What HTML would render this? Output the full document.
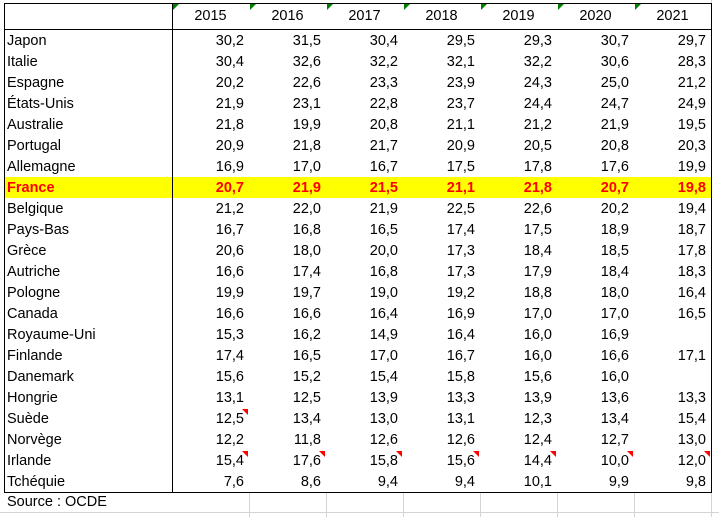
<!DOCTYPE html>
<html><head><meta charset="utf-8"><style>
body{margin:0;width:719px;height:517px;background:#fff;overflow:hidden;position:relative;font-family:"Liberation Sans",Arial,sans-serif;font-size:14.5px;color:#000}
.a{position:absolute}
.c{position:absolute;height:21px;line-height:21px;white-space:nowrap}
.g{position:absolute;background:#d4d4d4}
</style></head><body>
<div id="grid"></div>
<script>
const years=["2015","2016","2017","2018","2019","2020","2021"];
const countries=["Japon","Italie","Espagne","États-Unis","Australie","Portugal","Allemagne","France","Belgique","Pays-Bas","Grèce","Autriche","Pologne","Canada","Royaume-Uni","Finlande","Danemark","Hongrie","Suède","Norvège","Irlande","Tchéquie"];
const values=[
["30,2","31,5","30,4","29,5","29,3","30,7","29,7"],
["30,4","32,6","32,2","32,1","32,2","30,6","28,3"],
["20,2","22,6","23,3","23,9","24,3","25,0","21,2"],
["21,9","23,1","22,8","23,7","24,4","24,7","24,9"],
["21,8","19,9","20,8","21,1","21,2","21,9","19,5"],
["20,9","21,8","21,7","20,9","20,5","20,8","20,3"],
["16,9","17,0","16,7","17,5","17,8","17,6","19,9"],
["20,7","21,9","21,5","21,1","21,8","20,7","19,8"],
["21,2","22,0","21,9","22,5","22,6","20,2","19,4"],
["16,7","16,8","16,5","17,4","17,5","18,9","18,7"],
["20,6","18,0","20,0","17,3","18,4","18,5","17,8"],
["16,6","17,4","16,8","17,3","17,9","18,4","18,3"],
["19,9","19,7","19,0","19,2","18,8","18,0","16,4"],
["16,6","16,6","16,4","16,9","17,0","17,0","16,5"],
["15,3","16,2","14,9","16,4","16,0","16,9",""],
["17,4","16,5","17,0","16,7","16,0","16,6","17,1"],
["15,6","15,2","15,4","15,8","15,6","16,0",""],
["13,1","12,5","13,9","13,3","13,9","13,6","13,3"],
["12,5","13,4","13,0","13,1","12,3","13,4","15,4"],
["12,2","11,8","12,6","12,6","12,4","12,7","13,0"],
["15,4","17,6","15,8","15,6","14,4","10,0","12,0"],
["7,6","8,6","9,4","9,4","10,1","9,9","9,8"]];
const comments=[[18,0],[20,0],[20,1],[20,2],[20,3],[20,4],[20,5],[20,6]];
const highlight="France";
const L=4,X0=172,CW=77,T=3,H0=29,RH=21;
const R=X0+CW*7,B=H0+1+RH*countries.length;
const b=document.body;
function mk(cls,css,txt){const e=document.createElement('div');e.className=cls;e.style.cssText=css;if(txt!==undefined)e.textContent=txt;b.appendChild(e);return e;}
for(let k=1;k<=7;k++){const g=mk('g',`left:${X0+CW*k}px;top:${B}px;width:1px;height:${517-B}px`);}
{const g=mk('g',`left:0;top:${B+20}px;width:719px;height:1px`);}
{const g=mk('g',`left:${R}px;top:0;width:1px;height:${B}px`);}
const hi=countries.indexOf(highlight);
{const y=mk('a',`left:${L}px;top:${H0+1+RH*hi}px;width:${R-L}px;height:${RH}px;background:#ffff00`);}
{const e=mk('a',`left:${L}px;top:${T}px;width:${R-L-1}px;height:${B-T-1}px;border:1px solid #000`);}
{const e=mk('a',`left:${L}px;top:${H0}px;width:${R-L}px;height:1px;background:#000`);}
{const e=mk('a',`left:${X0}px;top:${T}px;width:1px;height:${B-T}px;background:#000`);}
years.forEach((yv,k)=>{
 const e=mk('c',`left:${X0+CW*k}px;top:${T+3}px;width:${CW}px;text-align:center`,yv);
 
 
 const t=mk('a',`left:${X0+CW*k+1}px;top:${T+1}px;width:0;height:0;border-top:6px solid #008000;border-right:6px solid transparent`);
 
 
});
countries.forEach((c,i)=>{
 const top=H0+1+RH*i;const fr=i===hi;
 const st=fr?'color:#ff0000;font-weight:bold;':'';
 const e=mk('c',`left:${L+3}px;top:${top+1}px;${st}`,c);
 
 
 values[i].forEach((v,k)=>{
  const d=mk('c',`left:${X0+CW*k}px;top:${top+1}px;width:${CW-5}px;text-align:right;${st}`,v);
  
  
 });
});
comments.forEach(([i,k])=>{
 const t=mk('a',`left:${X0+CW*(k+1)-7}px;top:${H0+1+RH*i+1}px;width:0;height:0;border-top:6px solid #ff0000;border-left:6px solid transparent`);
 
 
});
{const s=mk('c',`left:${L+3}px;top:${B}px`,'Source : OCDE');}
</script>
</body></html>
